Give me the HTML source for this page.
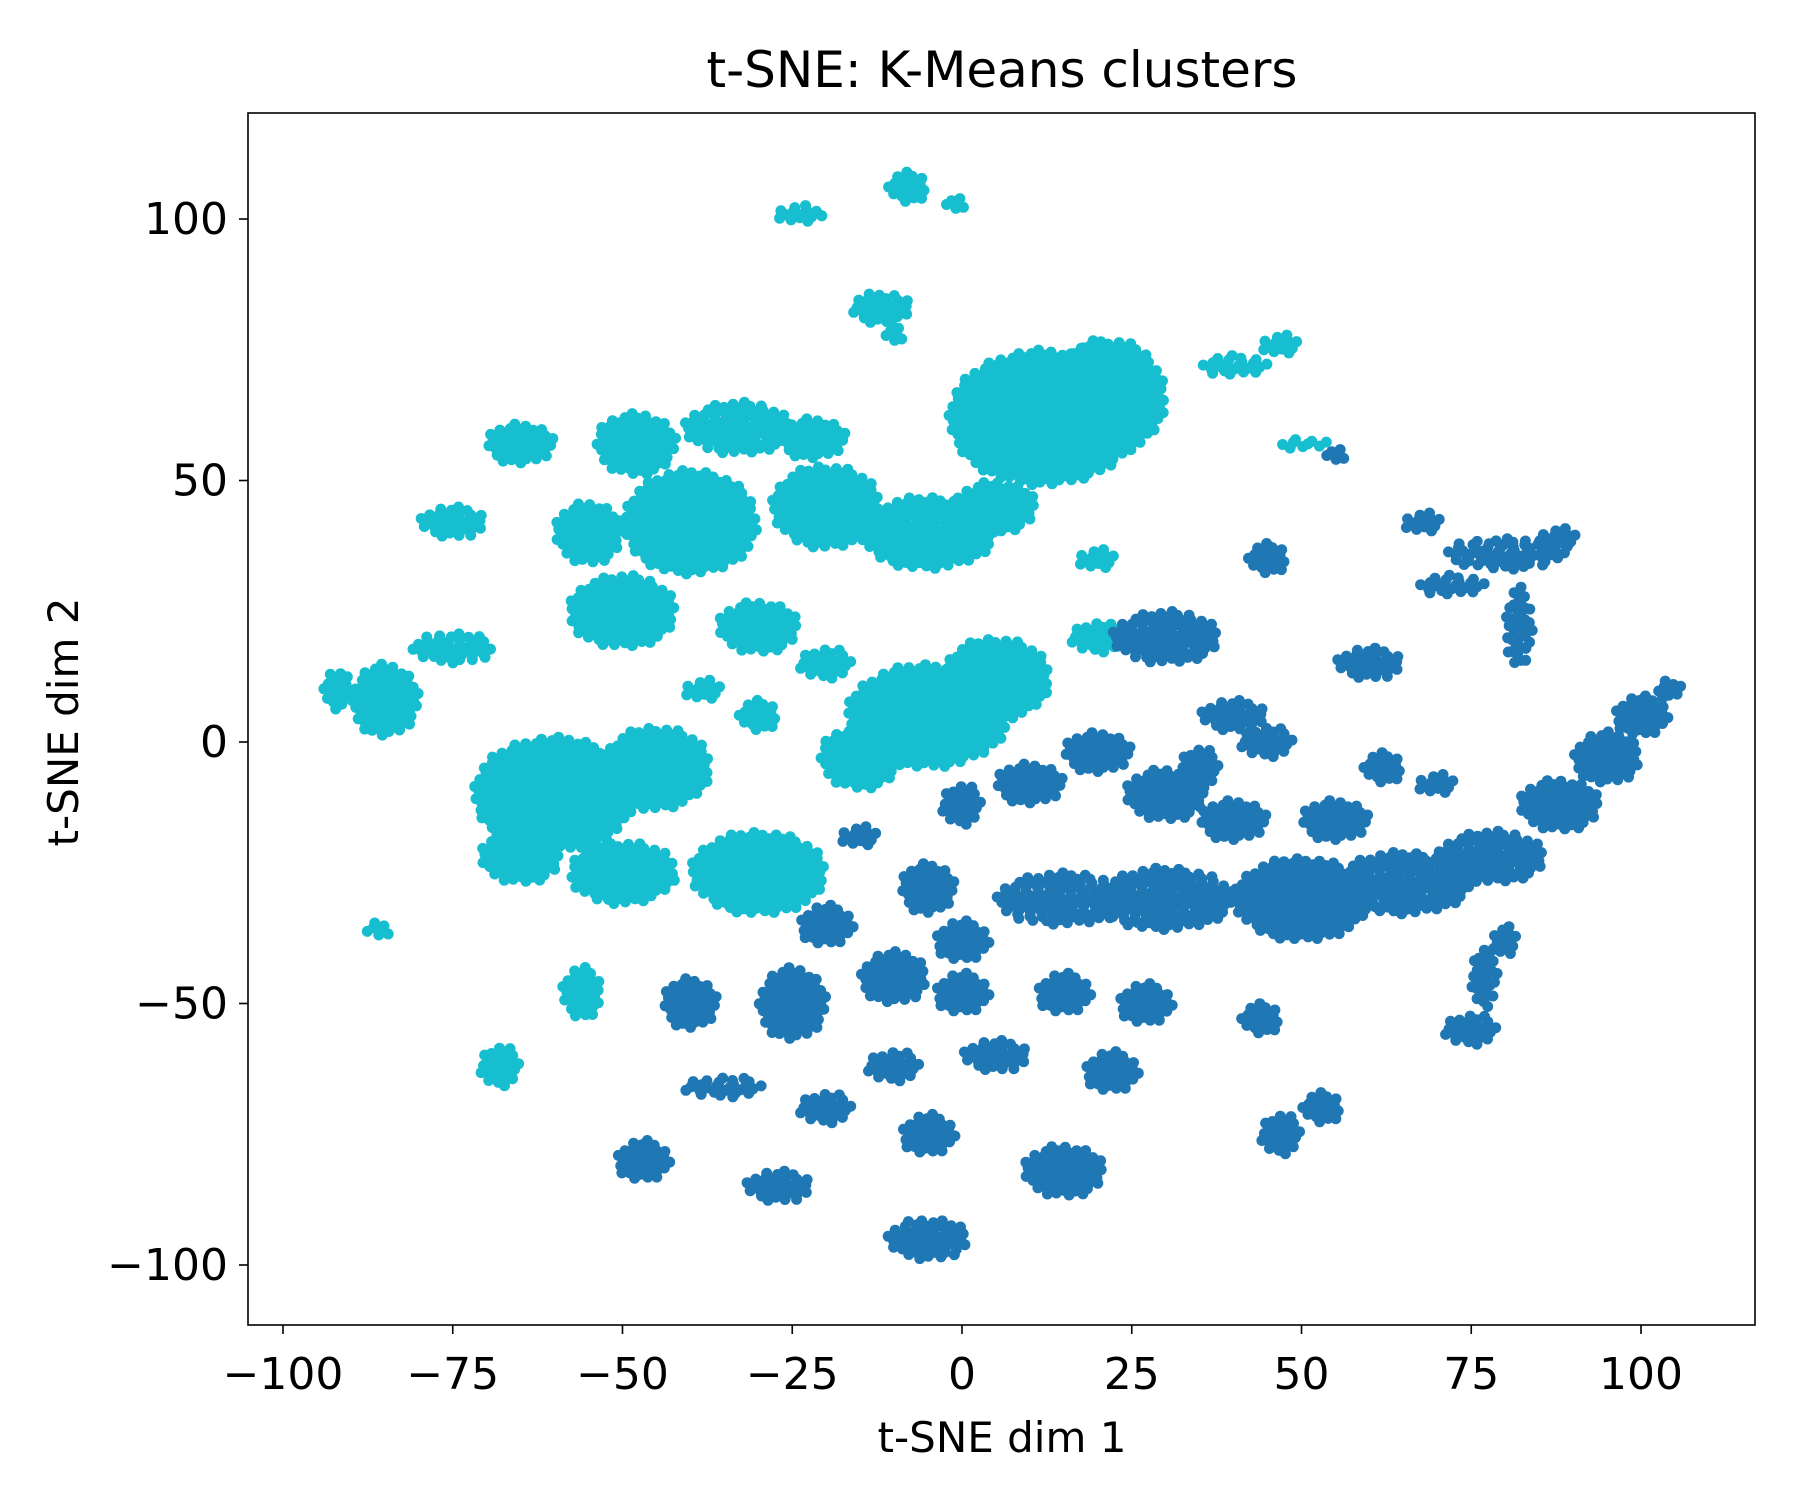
<!DOCTYPE html>
<html><head><meta charset="utf-8"><style>
html,body{margin:0;padding:0;background:#fff}
svg text{font-family:"DejaVu Sans","Liberation Sans",sans-serif;fill:#000}
</style></head><body>
<svg id="chart" width="1800" height="1500" viewBox="0 0 1800 1500" xmlns="http://www.w3.org/2000/svg">
<rect width="1800" height="1500" fill="#fff"/>
<g id="points"></g>
<rect x="248" y="113" width="1507" height="1212" fill="none" stroke="#000" stroke-width="1.6"/>
<g id="xticks"></g>
<g id="yticks"></g>
<text x="1002" y="87" font-size="50" text-anchor="middle">t-SNE: K-Means clusters</text>
<text x="1002" y="1452" font-size="42" text-anchor="middle">t-SNE dim 1</text>
<text x="78" y="722" font-size="42" text-anchor="middle" transform="rotate(-90 78 722)">t-SNE dim 2</text>
</svg>
<script>
const xTicks=[-100,-75,-50,-25,0,25,50,75,100];
const yTicks=[-100,-50,0,50,100];
// blobs: [cx, cy, rx, ry]
const cyanBlobs=[[-24,101,3.5,1.8],[-8,106,3,3],[-1,103,1.5,1.5],[-12,83,4.5,3],[-10,78,1.5,2],
[12,62,14,13],[22,66,8,11],[20,72,4,5],[-5,40,10,7],[5,45,6,5],
[-65,57,5,4],[-48,57,6,6],[-33,60,8,5],[-22,58,5,4],[-20,45,8,8],[-40,42,10,10],[-55,40,5,6],[-75,42,5,3],
[-50,25,8,7],[-30,22,6,5],[-85,8,5,7],[-75,18,6,3],[-92,10,2,4],
[-60,-10,12,11],[-45,-5,8,8],[-30,-25,10,8],[-50,-25,8,6],[-65,-22,6,5],
[-5,5,12,10],[5,12,8,8],[-15,-3,6,6],[-38,10,3,2],[-20,15,4,3],[-30,5,3,3],
[-86,-36,2,1.5],[-56,-48,3,5],[-68,-62,3,4],[20,20,4,3],[20,35,3,2],[50,57,4,1],[40,72,5,2],[47,76,3,2]];
const blueBlobs=[[55,55,1.5,1.5],[30,20,8,5],[45,35,3,3],[80,36,9,3],[72,30,5,2],[82,22,2,8],[68,42,3,2],[88,39,3,2],
[20,-2,5,4],[30,-10,6,5],[10,-8,5,4],[0,-12,3,4],[-15,-18,3,2],[-5,-28,4,5],[15,-30,10,5],[30,-30,10,6],[50,-30,10,8],
[65,-27,10,6],[78,-22,8,5],[88,-12,6,5],[95,-3,5,5],[100,5,4,4],[104,10,2,2],[55,-15,5,4],[40,-15,5,4],
[-20,-35,4,4],[-10,-45,5,5],[0,-38,4,4],[0,-48,4,4],[15,-48,4,4],[27,-50,4,4],
[-40,-50,4,5],[-25,-50,5,7],[-10,-62,4,3],[5,-60,5,3],[22,-63,4,4],
[-35,-66,6,2],[-20,-70,4,3],[-5,-75,4,4],[15,-82,6,5],
[-47,-80,4,4],[-27,-85,5,3],[-5,-95,6,4],[47,-75,3,4],[53,-70,3,3],[44,-53,3,3],
[75,-55,4,3],[77,-45,2,6],[80,-38,2,3],[60,15,5,3],[40,5,5,3],[62,-5,3,3],[70,-8,3,2],[45,0,4,3],[35,-5,3,4]];
const cx=v=>962+6.79*v, cy=v=>742-5.23*v;
const ns="http://www.w3.org/2000/svg";
const g=document.getElementById('points');
function drawBlobs(arr,color,name){
  arr.forEach(b=>{
    const n=Math.max(6,Math.round(b[2]*b[3]*2.2));
    for(let i=0;i<n;i++){
      const r=Math.sqrt((i+0.5)/n), a=i*2.39996;
      const c=document.createElementNS(ns,'circle');
      c.setAttribute('cx',cx(b[0]+b[2]*r*Math.cos(a)).toFixed(1));
      c.setAttribute('cy',cy(b[1]+b[3]*r*Math.sin(a)).toFixed(1));
      c.setAttribute('r',5.5);
      c.setAttribute('fill',color);
      
      
      g.appendChild(c);
    }
  });
}
drawBlobs(cyanBlobs,'#17becf','cluster-1-point');
drawBlobs(blueBlobs,'#1f77b4','cluster-0-point');
const xt=document.getElementById('xticks');
xTicks.forEach(t=>{
  const x=cx(t);
  const l=document.createElementNS(ns,'line');
  l.setAttribute('x1',x);l.setAttribute('x2',x);l.setAttribute('y1',1325);l.setAttribute('y2',1334);
  l.setAttribute('stroke','#000');l.setAttribute('stroke-width',1.6);
  
  
  xt.appendChild(l);
  const s=document.createElementNS(ns,'text');
  s.setAttribute('x',x);s.setAttribute('y',1389);s.setAttribute('font-size',44);s.setAttribute('text-anchor','middle');
  s.textContent=String(t).replace('-','\u2212');
  
  
  xt.appendChild(s);
});
const yt=document.getElementById('yticks');
yTicks.forEach(t=>{
  const y=cy(t);
  const l=document.createElementNS(ns,'line');
  l.setAttribute('x1',239);l.setAttribute('x2',248);l.setAttribute('y1',y);l.setAttribute('y2',y);
  l.setAttribute('stroke','#000');l.setAttribute('stroke-width',1.6);
  
  
  yt.appendChild(l);
  const s=document.createElementNS(ns,'text');
  s.setAttribute('x',228);s.setAttribute('y',y+15);s.setAttribute('font-size',44);s.setAttribute('text-anchor','end');
  s.textContent=String(t).replace('-','\u2212');
  
  
  yt.appendChild(s);
});
</script>
</body></html>
